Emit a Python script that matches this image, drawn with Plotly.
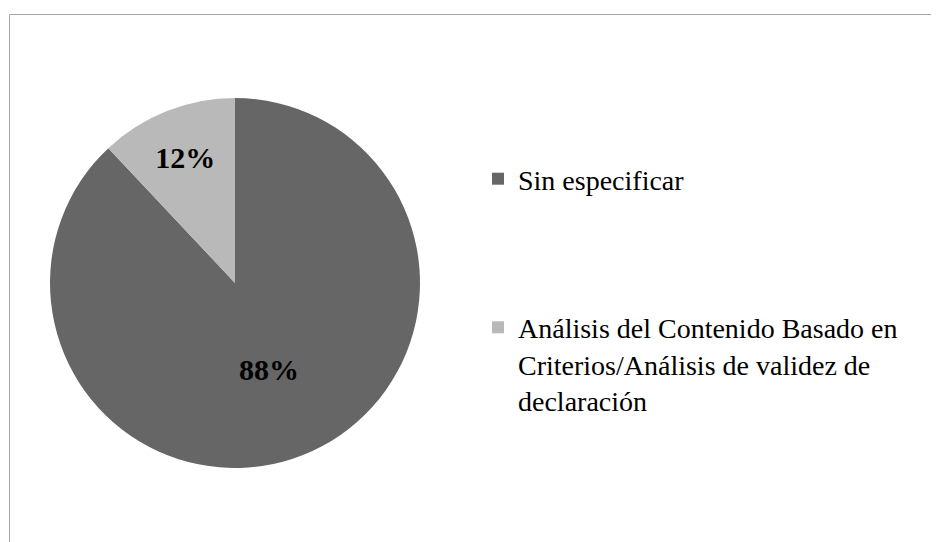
import plotly.graph_objects as go

labels = ["Sin especificar<br> <br> <br> ",
          "Análisis del Contenido Basado en<br>Criterios/Análisis de validez de<br>declaración"]
values = [88, 12]
colors = ["#666666", "#b9b9b9"]

W, H = 939, 542
OFF = 8  # page body margin in the browser


def px(xs):
    return (xs - OFF) / W


def py(ys):
    return 1 - (ys - OFF) / H


fig = go.Figure()
fig.add_trace(go.Pie(
    labels=labels,
    values=values,
    sort=False,
    direction="clockwise",
    rotation=0,
    marker=dict(colors=colors, line=dict(width=0)),
    textinfo="percent",
    texttemplate="<b>%{percent:.0%}</b>",
    textposition="inside",
    insidetextorientation="horizontal",
    textfont=dict(family="Liberation Serif", size=30, color="black"),
    domain=dict(x=[px(50), px(420)], y=[py(468), py(98)]),
    showlegend=True,
))

fig.update_layout(
    width=W, height=H,
    margin=dict(l=0, r=0, t=0, b=0),
    paper_bgcolor="white",
    plot_bgcolor="white",
    font=dict(family="Liberation Serif", size=28, color="black"),
    legend=dict(
        x=px(478), xanchor="left",
        y=py(154), yanchor="top",
        valign="top",
        itemwidth=30,
        font=dict(family="Liberation Serif", size=28, color="black"),
        bgcolor="rgba(0,0,0,0)",
    ),
    shapes=[dict(type="rect", xref="paper", yref="paper",
                 x0=px(9.5), x1=1.05, y0=-0.05, y1=py(14.5),
                 line=dict(color="#a6a6a6", width=1), fillcolor="rgba(0,0,0,0)",
                 layer="below")],
)

fig.write_html("out.html")
